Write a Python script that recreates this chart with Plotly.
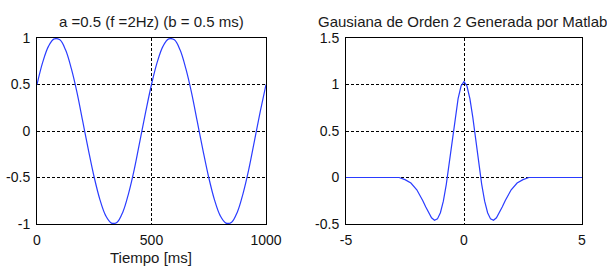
import plotly.graph_objects as go

# Left panel: sinusoid (time in ms)
sine_t = [0, 25, 50, 75, 100, 125, 150, 175, 200, 225, 250, 275, 300, 325, 350, 375, 400, 425, 450, 475,
          500, 525, 550, 575, 600, 625, 650, 675, 700, 725, 750, 775, 800, 825, 850, 875, 900, 925, 950, 975, 1000]
sine_y = [0.50, 0.74, 0.91, 0.99, 0.98, 0.87, 0.67, 0.41, 0.10, -0.21, -0.50, -0.74, -0.91, -0.99, -0.98, -0.87, -0.67, -0.41, -0.10, 0.21,
          0.50, 0.74, 0.91, 0.99, 0.98, 0.87, 0.67, 0.41, 0.10, -0.21, -0.50, -0.74, -0.91, -0.99, -0.98, -0.87, -0.67, -0.41, -0.10, 0.21, 0.50]

# Right panel: 2nd-order Gaussian wavelet
gaus_x = [-5, -2.75, -2.5, -2.25, -2.0, -1.875, -1.75, -1.625, -1.5, -1.375, -1.25, -1.125, -1.0, -0.875,
          -0.75, -0.625, -0.5, -0.375, -0.25, -0.125, 0,
          0.125, 0.25, 0.375, 0.5, 0.625, 0.75, 0.875, 1.0, 1.125, 1.25, 1.375, 1.5, 1.625, 1.75, 1.875,
          2.0, 2.25, 2.5, 2.75, 5]
gaus_y = [0, 0, -0.023, -0.060, -0.132, -0.185, -0.247, -0.315, -0.380, -0.433, -0.459, -0.445, -0.379, -0.255,
          -0.073, 0.153, 0.402, 0.644, 0.848, 0.984, 1.031,
          0.984, 0.848, 0.644, 0.402, 0.153, -0.073, -0.255, -0.379, -0.445, -0.459, -0.433, -0.380, -0.315, -0.247, -0.185,
          -0.132, -0.060, -0.023, 0, 0]

left_xticks = [0, 500, 1000]
left_xtext = ["0", "500", "1000"]
left_yticks = [-1, -0.5, 0, 0.5, 1]
left_ytext = ["-1", "-0.5", "0", "0.5", "1"]
right_xticks = [-5, 0, 5]
right_xtext = ["-5", "0", "5"]
right_yticks = [-0.5, 0, 0.5, 1, 1.5]
right_ytext = ["-0.5", "0", "0.5", "1", "1.5"]

title_left = "a =0.5 (f =2Hz) (b = 0.5 ms)"
title_right = "Gausiana de Orden 2 Generada por Matlab"
xlabel_left = "Tiempo [ms]"

W, H = 607, 266
TICKFONT = dict(family="Liberation Sans, Arial, sans-serif", size=14, color="#111111")
TEXTFONT = dict(family="Liberation Sans, Arial, sans-serif", size=15, color="#1a1a1a")
LINE = "#2a3cff"

fig = go.Figure()
fig.add_trace(go.Scatter(x=sine_t, y=sine_y, mode="lines", line=dict(color=LINE, width=1.2, shape="spline"),
                         xaxis="x", yaxis="y", showlegend=False, hoverinfo="skip"))
fig.add_trace(go.Scatter(x=gaus_x, y=gaus_y, mode="lines", line=dict(color=LINE, width=1.2),
                         xaxis="x2", yaxis="y2", showlegend=False, hoverinfo="skip"))

def ax(domain, rng, tv, tt, anchor, standoff):
    return dict(domain=domain, range=rng, tickvals=tv, ticktext=tt, anchor=anchor,
                showline=True, mirror=True, linecolor="black", linewidth=1,
                showgrid=True, gridcolor="black", gridwidth=1, griddash="3px,2px",
                zeroline=False, ticks="", tickfont=TICKFONT, fixedrange=True,
                automargin=False, ticklabelstandoff=standoff)

ydom = [1 - 224 / H, 1 - 38 / H]
fig.update_layout(
    width=W, height=H,
    margin=dict(l=0, r=0, t=0, b=0, autoexpand=False),
    paper_bgcolor="white", plot_bgcolor="white",
    font=TEXTFONT,
    xaxis=ax([37 / W, 266 / W], [0, 1000], left_xticks, left_xtext, "y", 3),
    yaxis=ax(ydom, [-1, 1], left_yticks, left_ytext, "x", 3),
    xaxis2=ax([346 / W, 582 / W], [-5, 5], right_xticks, right_xtext, "y2", 3),
    yaxis2=ax(ydom, [-0.5, 1.5], right_yticks, right_ytext, "x2", 3),
    annotations=[
        dict(text=title_left, x=151 / W, y=1 - 22 / H, xref="paper", yref="paper",
             xanchor="center", yanchor="middle", showarrow=False, font=TEXTFONT),
        dict(text=title_right, x=462 / W, y=1 - 22 / H, xref="paper", yref="paper",
             xanchor="center", yanchor="middle", showarrow=False, font=TEXTFONT),
        dict(text=xlabel_left, x=151 / W, y=1 - 257 / H, xref="paper", yref="paper",
             xanchor="center", yanchor="middle", showarrow=False, font=TEXTFONT),
    ],
)
fig.write_html("out.html", config={"displayModeBar": False},
               post_script="document.body.style.margin='0';document.body.style.overflow='hidden';")
